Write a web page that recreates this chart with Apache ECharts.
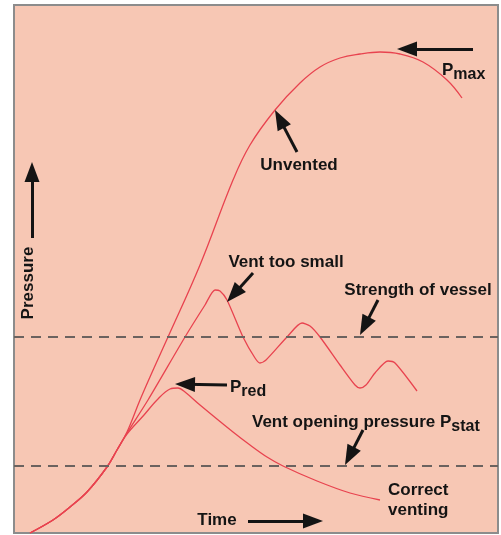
<!DOCTYPE html>
<html>
<head>
<meta charset="utf-8">
<script src="https://cdn.jsdelivr.net/npm/echarts@6/dist/echarts.min.js"></script>
<style>
  html, body { margin: 0; padding: 0; background: #fff; }
  #chart { width: 501px; height: 535px; }
</style>
</head>
<body>
<div id="chart"></div>
<script>
// units: time and pressure in arbitrary units
const ignition = [[16, 0], [39, 13], [56, 26], [73, 41], [93, 66], [103, 83]];
const unventedTail = [[113, 101], [126, 133], [140, 165], [154, 196], [186, 268], [219, 353], [236, 388], [261, 423], [286, 450], [306, 466], [326, 475], [346, 479], [366, 481], [386, 479], [409, 471], [433, 453], [448, 435]];
const ventTooSmallTail = [[113, 100], [134, 133], [171, 196], [191, 228], [201, 243], [206, 242], [213, 233], [229, 196], [241, 175], [246, 170], [252, 173], [273, 196], [288, 210], [296, 207], [306, 196], [326, 168], [341, 148], [346, 145], [352, 148], [361, 160], [374, 172], [381, 170], [403, 142]];
const correctVentingTail = [[113, 99], [130, 118], [143, 133], [156, 144], [164, 145], [171, 141], [186, 128], [219, 101], [236, 88], [253, 76], [269, 67], [303, 52], [336, 40], [366, 33]];
const strengthOfVessel = 196;
const ventOpeningPressure = 67;

const chart = echarts.init(document.getElementById("chart"));

const red = "#e8434f";
const ink = "#141414";
const font = "Liberation Sans";

function arrow(from, tip) {
  let dx = tip[0] - from[0], dy = tip[1] - from[1];
  let len = Math.hypot(dx, dy);
  let end = [tip[0] - (dx / len) * 10, tip[1] - (dy / len) * 10];
  return [
    { coord: from, symbol: "none", lineStyle: arrowStyle },
    { coord: end, symbol: "triangle", symbolSize: [15, 20] },
  ];
}

function note(coord, text, align, extra) {
  return {
    coord: coord,
    symbolSize: 0,
    label: Object.assign({
      show: true,
      position: "inside",
      align: align || "center",
      verticalAlign: "middle",
      formatter: text,
      color: ink,
      fontFamily: font,
      fontWeight: "bold",
      fontSize: 17,
      rich: {
        p: { fontSize: 17, fontWeight: "bold", color: ink, fontFamily: font, lineHeight: 20 },
        s: { fontSize: 16, fontWeight: "bold", color: ink, fontFamily: font, lineHeight: 16, padding: [10, 0, 0, 0] },
      },
    }, extra || {}),
  };
}

const dashed = { type: [10, 7], color: "#6b625f", width: 2 };
const arrowStyle = { type: "solid", color: ink, width: 3 };

let option = {
  animation: false,
  backgroundColor: "#fff",
  grid: {
    show: true,
    left: 14,
    right: 3,
    top: 5,
    bottom: 2,
    backgroundColor: "#f7c7b4",
    borderColor: "#8c8c8c",
    borderWidth: 2,
  },
  xAxis: {
    type: "value",
    min: 0,
    max: 484,
    axisLine: { show: false },
    axisTick: { show: false },
    axisLabel: { show: false },
    splitLine: { show: false },
  },
  yAxis: {
    type: "value",
    min: 0,
    max: 528,
    axisLine: { show: false },
    axisTick: { show: false },
    axisLabel: { show: false },
    splitLine: { show: false },
  },
  series: [
    {
      name: "Correct venting",
      type: "line",
      data: ignition.concat(correctVentingTail),
      smooth: 0.35,
      showSymbol: false,
      lineStyle: { color: red, width: 1.3 },
    },
    {
      name: "Vent too small",
      type: "line",
      data: ignition.concat(ventTooSmallTail),
      smooth: 0.25,
      showSymbol: false,
      lineStyle: { color: red, width: 1.3 },
    },
    {
      name: "Unvented",
      type: "line",
      data: ignition.concat(unventedTail),
      smooth: 0.4,
      showSymbol: false,
      lineStyle: { color: red, width: 1.3 },
      markLine: {
        silent: true,
        symbol: ["none", "none"],
        label: { show: false },
        emphasis: { disabled: true },
        data: [
          { yAxis: strengthOfVessel, lineStyle: dashed },
          { yAxis: ventOpeningPressure, lineStyle: dashed },
          arrow([459, 484], [383, 484]),
          arrow([283, 381], [261, 423]),
          arrow([18, 295], [18, 371]),
          arrow([239, 260], [213, 231]),
          arrow([364, 233], [346, 198]),
          arrow([213, 148], [161, 149]),
          arrow([349, 103], [331, 68]),
          arrow([234, 12], [309, 12]),
        ],
      },
      markPoint: {
        silent: true,
        symbol: "circle",
        itemStyle: { color: "transparent" },
        data: [
          note([428, 463], "{p|P}{s|max}", "left"),
          note([285, 368], "Unvented"),
          note([14, 250], "Pressure", "center", { rotate: 90 }),
          note([272, 271], "Vent too small"),
          note([404, 243], "Strength of vessel"),
          note([216, 146], "{p|P}{s|red}", "left"),
          note([238, 111], "{p|Vent opening pressure P}{s|stat}", "left"),
          note([374, 33], "Correct\nventing", "left", { lineHeight: 20 }),
          note([203, 13], "Time"),
        ],
      },
    },
  ],
};

chart.setOption(option);
</script>
</body>
</html>
